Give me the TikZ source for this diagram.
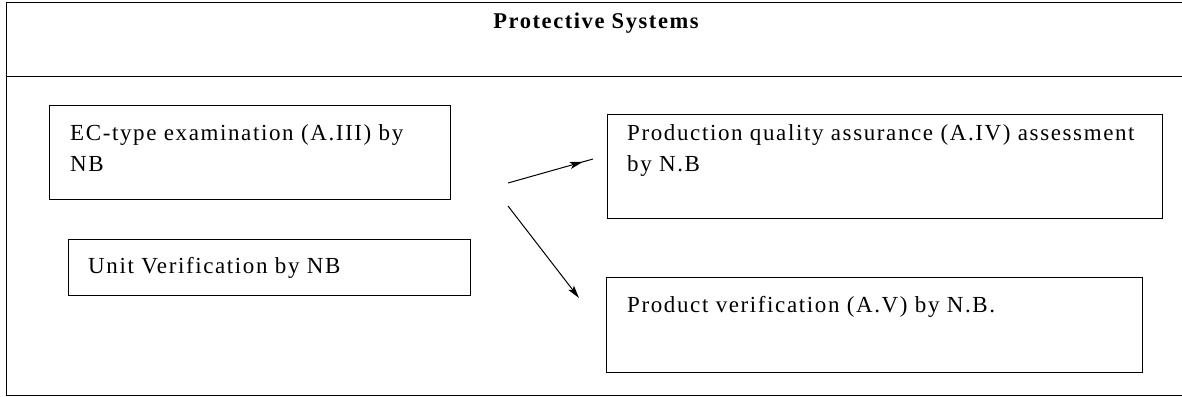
\documentclass[tikz,border=0pt]{standalone}
\usepackage{fontspec}
\setmainfont{Liberation Serif}[LetterSpace=7]
\usetikzlibrary{arrows.meta,decorations.markings}
\begin{document}
\begin{tikzpicture}[x=1pt,y=-1pt,
  frame/.style={line width=1pt},
  box/.style={draw,line width=1pt,rectangle,inner sep=0pt},
  lbl/.style={anchor=base west,inner sep=0pt,font=\fontsize{23}{31}\selectfont},
  ttl/.style={anchor=base,inner sep=0pt,font=\fontsize{22.5}{31}\selectfont\bfseries},
  conn/.style={line width=1pt},
  tip/.style={-{Stealth[length=13pt,width=7pt,inset=3pt]}}
]
\useasboundingbox (0,0) rectangle (1182,396);
% outer frame
\coordinate (tl) at (6,3);
\coordinate (tr) at (1182,3);
\coordinate (ml) at (6,76);
\coordinate (mr) at (1182,76);
\coordinate (bl) at (6,395);
\coordinate (br) at (1182,395);
\draw[frame] (tr) -- (tl) -- (bl) -- (br);
\draw[frame] (ml) -- (mr);
\node[ttl] (title) at (596,29) {Protective Systems};
% boxes
\node[box,minimum width=401pt,minimum height=94pt] (ec) at (249.5,152) {};
\node[box,minimum width=402pt,minimum height=56pt] (unit) at (269,267) {};
\node[box,minimum width=555pt,minimum height=104pt] (pqa) at (884.5,166) {};
\node[box,minimum width=536pt,minimum height=95pt] (pv) at (874,324.5) {};
% labels
\node[lbl] (ec1) at (70,140) {EC-type examination (A.III) by};
\node[lbl] (ec2) at (70,171) {NB};
\node[lbl] (unit1) at (88,273) {Unit Verification by NB};
\node[lbl] (pqa1) at (627,140) {Production quality assurance (A.IV) assessment};
\node[lbl] (pqa2) at (627,171) {by N.B};
\node[lbl] (pv1) at (627,312) {Product verification (A.V) by N.B.};
% connectors
\coordinate (a1s) at (508,183);
\coordinate (a1e) at (593,159);
\coordinate (a2s) at (508,206);
\coordinate (a2e) at (579,298);
\draw[conn,postaction={decorate},decoration={markings,mark=at position 0.88 with {\arrow{Stealth[length=13pt,width=7pt,inset=3pt]}}}] (a1s) -- (a1e);
\draw[conn,tip] (a2s) -- (a2e);
\end{tikzpicture}
\end{document}
